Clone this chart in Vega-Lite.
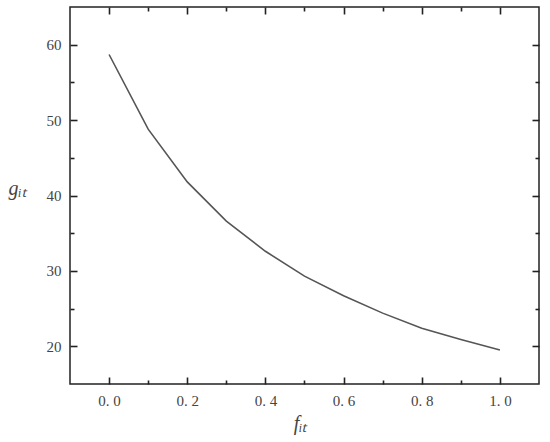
{
  "$schema": "https://vega.github.io/schema/vega-lite/v6.json",
  "width": 469,
  "height": 377,
  "autosize": "none",
  "padding": {"left": 70, "top": 7, "right": 11, "bottom": 58},
  "background": "white",
  "config": {
    "view": {"stroke": "#222222", "strokeWidth": 1.5},
    "axis": {
      "zindex": 1,
      "domain": false,
      "grid": false,
      "ticks": true,
      "tickColor": "#222222",
      "tickWidth": 1.6,
      "labelFont": "Liberation Serif",
      "labelFontSize": 15,
      "labelColor": "#444444",
      "titleFont": "Liberation Serif",
      "titleFontStyle": "italic",
      "titleFontWeight": "normal",
      "titleFontSize": 20,
      "titleColor": "#444444"
    }
  },
  "data": {
    "values": [
      {"f": 0.0, "g": 58.7},
      {"f": 0.1, "g": 48.8},
      {"f": 0.2, "g": 41.8},
      {"f": 0.3, "g": 36.6},
      {"f": 0.4, "g": 32.6},
      {"f": 0.5, "g": 29.3},
      {"f": 0.6, "g": 26.7},
      {"f": 0.7, "g": 24.4},
      {"f": 0.8, "g": 22.4},
      {"f": 0.9, "g": 20.9},
      {"f": 1.0, "g": 19.5}
    ]
  },
  "resolve": {"axis": {"x": "independent", "y": "independent"}},
  "layer": [
    {
      "mark": {"type": "line", "color": "#555555", "strokeWidth": 1.6},
      "encoding": {
        "x": {
          "field": "f", "type": "quantitative",
          "scale": {"domain": [-0.1, 1.1], "nice": false, "zero": false},
          "axis": {
            "orient": "bottom",
            "title": "fᵢₜ",
            "values": [0, 0.2, 0.4, 0.6, 0.8, 1.0],
            "offset": -7,
            "tickSize": 7,
            "labelExpr": "replace(format(datum.value, '.1f'), '.', '. ')",
            "labelPadding": 9,
            "titleX": 230,
            "titleY": 46,
            "titleBaseline": "middle"
          }
        },
        "y": {
          "field": "g", "type": "quantitative",
          "scale": {"domain": [15, 65], "nice": false, "zero": false},
          "axis": {
            "orient": "left",
            "title": "gᵢₜ",
            "values": [20, 30, 40, 50, 60],
            "offset": -7,
            "tickSize": 7,
            "labelPadding": 9,
            "titleAngle": 0,
            "titleX": -60,
            "titleY": 181,
            "titleAlign": "center",
            "titleBaseline": "middle"
          }
        }
      }
    },
    {
      "mark": {"type": "line", "strokeOpacity": 0},
      "encoding": {
        "x": {
          "field": "f", "type": "quantitative",
          "scale": {"domain": [-0.1, 1.1], "nice": false, "zero": false},
          "axis": {"orient": "bottom", "title": null, "labels": false, "values": [0.1, 0.3, 0.5, 0.7, 0.9], "offset": -4, "tickSize": 4}
        },
        "y": {
          "field": "g", "type": "quantitative",
          "scale": {"domain": [15, 65], "nice": false, "zero": false},
          "axis": {"orient": "left", "title": null, "labels": false, "values": [25, 35, 45, 55], "offset": -4, "tickSize": 4}
        }
      }
    },
    {
      "mark": {"type": "line", "strokeOpacity": 0},
      "encoding": {
        "x": {
          "field": "f", "type": "quantitative",
          "scale": {"domain": [-0.1, 1.1], "nice": false, "zero": false},
          "axis": {"orient": "top", "title": null, "labels": false, "values": [0, 0.2, 0.4, 0.6, 0.8, 1.0], "offset": -7, "tickSize": 7}
        },
        "y": {
          "field": "g", "type": "quantitative",
          "scale": {"domain": [15, 65], "nice": false, "zero": false},
          "axis": {"orient": "right", "title": null, "labels": false, "values": [20, 30, 40, 50, 60], "offset": -7, "tickSize": 7}
        }
      }
    },
    {
      "mark": {"type": "line", "strokeOpacity": 0},
      "encoding": {
        "x": {
          "field": "f", "type": "quantitative",
          "scale": {"domain": [-0.1, 1.1], "nice": false, "zero": false},
          "axis": {"orient": "top", "title": null, "labels": false, "values": [0.1, 0.3, 0.5, 0.7, 0.9], "offset": -4, "tickSize": 4}
        },
        "y": {
          "field": "g", "type": "quantitative",
          "scale": {"domain": [15, 65], "nice": false, "zero": false},
          "axis": {"orient": "right", "title": null, "labels": false, "values": [25, 35, 45, 55], "offset": -4, "tickSize": 4}
        }
      }
    }
  ]
}
